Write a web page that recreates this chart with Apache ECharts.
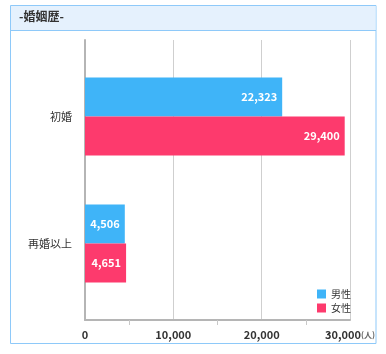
<!DOCTYPE html>
<html>
<head>
<meta charset="utf-8">
<script src="https://cdn.jsdelivr.net/npm/echarts@6/dist/echarts.min.js"></script>
<style>
  html, body { margin: 0; padding: 0; background: #fff; }
  #chart { width: 386px; height: 354px; }
</style>
</head>
<body>
<div id="chart"></div>
<script>
const categories = ["初婚", "再婚以上"];
const maleValues = [22323, 4506];
const femaleValues = [29400, 4651];
const seriesNames = ["男性", "女性"];
const xTicks = [0, 10000, 20000, 30000];
const unitLabel = "(人)";
const titleText = "-婚姻歴-";

const FONT = "'Noto Sans CJK JP', 'Noto Sans', sans-serif";
const BLUE = "#3fb4f8";
const PINK = "#fd3a6d";

const xMax = xTicks[xTicks.length - 1];
const xStep = xTicks[1] - xTicks[0];

const chart = echarts.init(document.getElementById("chart"), null, { renderer: "canvas" });

function fmt(v) {
  return Number(v).toLocaleString("en-US");
}

const barLabel = {
  show: true,
  position: "insideRight",
  distance: 5,
  color: "#fff",
  fontSize: 11,
  fontWeight: "bold",
  fontFamily: FONT,
  formatter: (p) => fmt(p.value),
};

chart.setOption({
  animation: false,
  textStyle: { fontFamily: FONT },
  graphic: [
    {
      type: "rect",
      z: -10,
      shape: { x: 10.5, y: 5.5, width: 365.5, height: 338 },
      style: { fill: "#fff", stroke: "#8ec9f9", lineWidth: 1 },
    },
    {
      type: "rect",
      z: -9,
      shape: { x: 11, y: 6, width: 364.5, height: 24 },
      style: { fill: "#e5f1fd" },
    },
    {
      type: "line",
      z: -8,
      shape: { x1: 11, y1: 30.5, x2: 376, y2: 30.5 },
      style: { stroke: "#8ec9f9", lineWidth: 1 },
    },
    {
      type: "text",
      left: 19,
      top: 10,
      style: { text: titleText, fill: "#333", font: "bold 12px " + FONT },
    },
  ],
  legend: {
    orient: "vertical",
    left: 312,
    top: 284,
    itemWidth: 9,
    itemHeight: 9,
    itemGap: 4,
    icon: "rect",
    textStyle: { fontSize: 10, color: "#333", fontFamily: FONT },
    data: seriesNames,
  },
  grid: [
    { left: 85, right: 36, top: 40, bottom: 34 },
    { left: 85, right: 36, top: 53, bottom: 47 },
  ],
  xAxis: [
    {
      gridIndex: 0,
      type: "value",
      min: 0,
      max: xMax,
      interval: xStep,
      axisLine: { show: true, lineStyle: { color: "#b5b5b5", width: 2 } },
      axisTick: { show: false },
      minorTick: { show: true, splitNumber: 2, length: 5, lineStyle: { color: "#c8c8c8" } },
      splitLine: { show: true, lineStyle: { color: "#cfcfcf", width: 1 } },
      axisLabel: {
        margin: 9,
        fontSize: 11,
        fontWeight: "bold",
        color: "#333",
        fontFamily: FONT,
        formatter: (v) => (v === xMax ? "{a|" + fmt(v) + "}{u|" + unitLabel + "}" : fmt(v)),
        rich: {
          a: { fontSize: 11, fontWeight: "bold", color: "#333", fontFamily: FONT },
          u: { fontSize: 8, color: "#666", fontFamily: FONT },
        },
      },
    },
    {
      gridIndex: 1,
      type: "value",
      min: 0,
      max: xMax,
      show: false,
      splitLine: { show: false },
    },
  ],
  yAxis: [
    {
      gridIndex: 0,
      type: "category",
      data: categories,
      inverse: true,
      axisLine: { show: true, lineStyle: { color: "#b5b5b5", width: 2 } },
      axisTick: { show: false },
      axisLabel: { show: false },
      splitLine: { show: false },
    },
    {
      gridIndex: 1,
      type: "category",
      data: categories,
      inverse: true,
      axisLine: { show: false },
      axisTick: { show: false },
      axisLabel: { margin: 13, fontSize: 11, color: "#333", fontFamily: FONT },
    },
  ],
  series: [
    {
      name: seriesNames[0],
      type: "bar",
      xAxisIndex: 1,
      yAxisIndex: 1,
      data: maleValues,
      barGap: "0%",
      barCategoryGap: "38.6%",
      itemStyle: { color: BLUE },
      label: barLabel,
    },
    {
      name: seriesNames[1],
      type: "bar",
      xAxisIndex: 1,
      yAxisIndex: 1,
      data: femaleValues,
      barGap: "0%",
      barCategoryGap: "38.6%",
      itemStyle: { color: PINK },
      label: barLabel,
    },
  ],
});
</script>
</body>
</html>
